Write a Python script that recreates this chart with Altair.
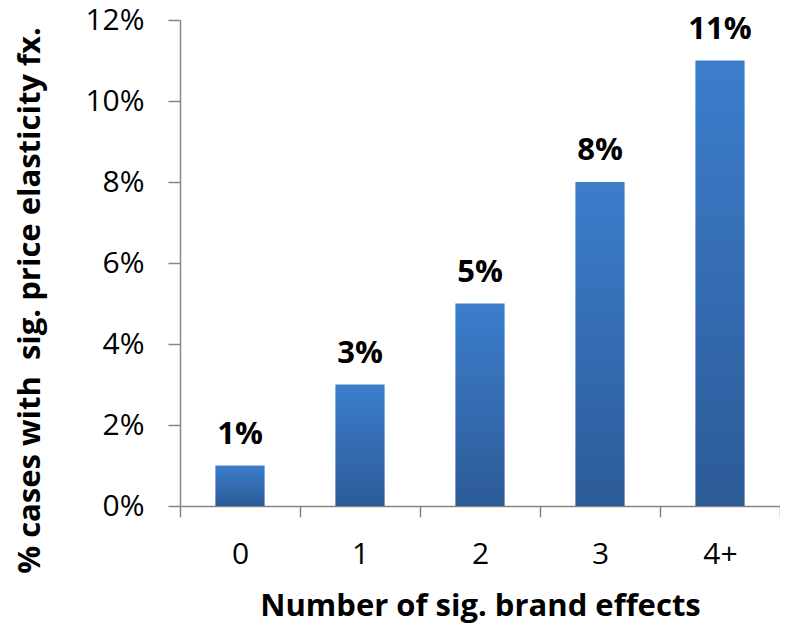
import altair as alt
import pandas as pd

categories = ["0", "1", "2", "3", "4+"]
values = [0.01, 0.03, 0.05, 0.08, 0.11]
labels = ["1%", "3%", "5%", "8%", "11%"]

df = pd.DataFrame({"cat": categories, "val": values, "lab": labels})

FONT = "Open Sans"
AX = "#868686"

x = alt.X("cat:N", sort=categories,
          scale=alt.Scale(paddingInner=0, paddingOuter=0),
          axis=alt.Axis(title="Number of sig. brand effects", labelAngle=0,
                        tickBand="extent", tickSize=11, tickColor=AX, tickWidth=1.5,
                        domainColor=AX, domainWidth=1.5,
                        labelFont=FONT, labelFontSize=30, labelColor="black",
                        labelPadding=22,
                        titleFont=FONT, titleFontSize=31, titleFontWeight="bold",
                        titleColor="black", titlePadding=22))

y = alt.Y("val:Q",
          scale=alt.Scale(domain=[0, 0.12], nice=False),
          axis=alt.Axis(title="% cases with\u00a0 sig. price elasticity fx.",
                        format=".0%", values=[0, 0.02, 0.04, 0.06, 0.08, 0.10, 0.12],
                        grid=False, tickSize=12, tickColor=AX, tickWidth=1.5,
                        domainColor=AX, domainWidth=1.5,
                        labelFont=FONT, labelFontSize=30, labelColor="black",
                        labelPadding=24,
                        titleFont=FONT, titleFontSize=31, titleFontWeight="bold",
                        titleColor="black", titlePadding=38, titleY=280))

grad = alt.Gradient(gradient="linear", x1=0, x2=0, y1=0, y2=1,
                    stops=[alt.GradientStop(color="#3C7DCC", offset=0),
                           alt.GradientStop(color="#2C5B98", offset=1)])

bars = alt.Chart(df).mark_bar(color=grad, width=alt.RelativeBandSize(0.41)).encode(x=x, y=y)

text = alt.Chart(df).mark_text(font=FONT, fontSize=31, fontWeight="bold",
                               baseline="alphabetic", dy=-22, color="black").encode(
    x=alt.X("cat:N", sort=categories), y="val:Q", text="lab:N")

chart = (bars + text).properties(
    width=600, height=486,
    autosize=alt.AutoSizeParams(type="none"),
    padding={"left": 172, "top": 12, "right": 0, "bottom": 118},
).configure_view(stroke=None)

chart.save("out.html", embed_options={"renderer": "svg", "actions": False})
